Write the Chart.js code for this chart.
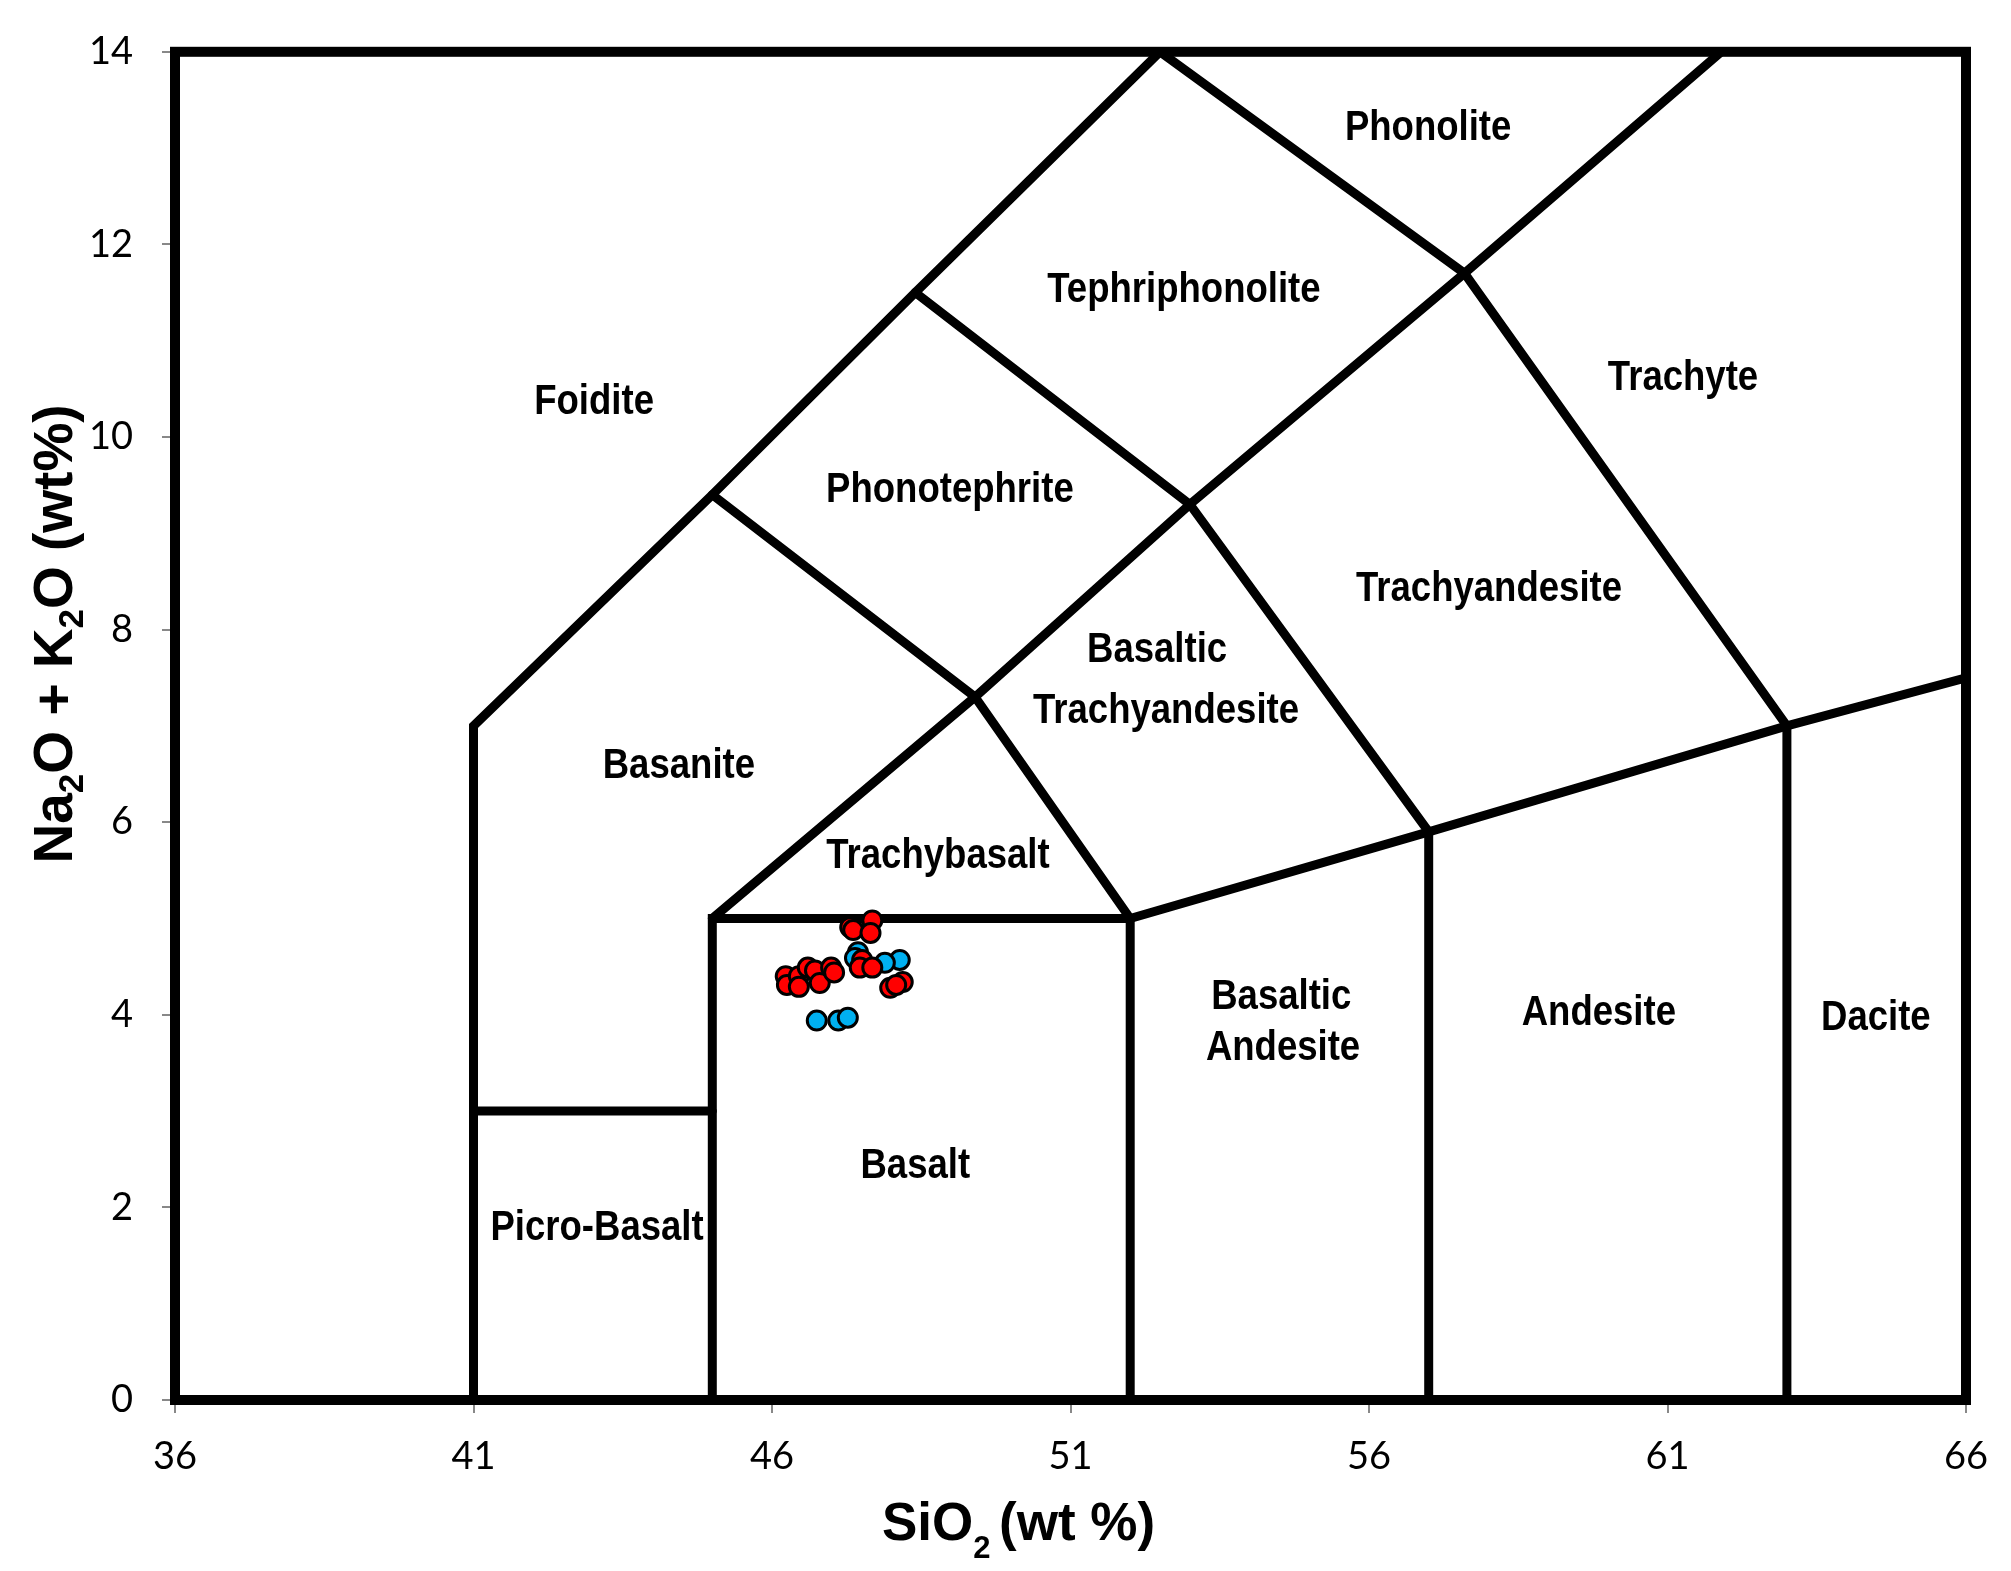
<!DOCTYPE html>
<html>
<head>
<meta charset="utf-8">
<title>TAS diagram</title>
<script src="https://cdn.jsdelivr.net/npm/chart.js@4.4.1/dist/chart.umd.min.js"></script>
<style>
  html, body { margin: 0; padding: 0; background: #fff; }
  canvas { display: block; }
</style>
</head>
<body>
<canvas id="tas" width="2011" height="1571"></canvas>
<script>
// tick labels
const siTicks = [36, 41, 46, 51, 56, 61, 66];
const alkTicks = [0, 2, 4, 6, 8, 10, 12, 14];

// samples
const redSiO2 = [46.23, 46.25, 46.45, 46.45, 46.60, 46.72, 46.80, 46.99, 47.04, 47.31, 47.36, 47.68, 47.65, 47.51, 47.47, 47.68, 47.98, 48.19, 48.08];
const redAlk  = [4.40, 4.31, 4.40, 4.29, 4.49, 4.46, 4.33, 4.49, 4.44, 4.91, 4.88, 4.98, 4.85, 4.57, 4.49, 4.49, 4.28, 4.34, 4.31];
const blueSiO2 = [46.75, 47.11, 47.27, 47.44, 47.39, 48.14, 47.89];
const blueAlk  = [3.94, 3.94, 3.97, 4.65, 4.59, 4.57, 4.54];

// TAS field boundaries (SiO2, Na2O+K2O)
const foiditeEdge = [[41, 0], [41, 7], [45, 9.4], [48.4, 11.5], [52.5, 14]];
const picroTop = [[41, 3], [45, 3]];
const basaltBox = [[45, 0], [45, 5], [52, 5], [52, 0]];
const trachyEdge = [[45, 5], [49.4, 7.3], [53, 9.3], [57.6, 11.7], [61.9, 14]];
const basaniteEdge = [[45, 9.4], [49.4, 7.3], [52, 5]];
const tephriEdge = [[48.4, 11.5], [53, 9.3], [57, 5.9], [57, 0]];
const phonoEdge = [[52.5, 14], [57.6, 11.7], [63, 7], [63, 0]];
const subalkEdge = [[52, 5], [57, 5.9], [63, 7], [66, 7.5]];
const boundaries = [foiditeEdge, picroTop, basaltBox, trachyEdge, basaniteEdge, tephriEdge, phonoEdge, subalkEdge];

// field names and where they sit
const regionNames = ["Foidite", "Phonolite", "Tephriphonolite", "Trachyte", "Phonotephrite", "Trachyandesite",
  "Basaltic", "Trachyandesite", "Basanite", "Trachybasalt", "Basaltic", "Andesite", "Andesite", "Dacite", "Basalt", "Picro-Basalt"];
const labelSiO2 = [43.02, 56.99, 52.90, 61.26, 48.98, 58.01, 52.45, 52.60, 44.44, 48.78, 54.53, 54.56, 59.85, 64.49, 48.40, 43.07];
const labelAlk  = [10.36, 13.20, 11.52, 10.61, 9.45, 8.42, 7.78, 7.15, 6.58, 5.64, 4.18, 3.65, 4.01, 3.96, 2.43, 1.78];

const toPts = (xs, ys) => xs.map((v, i) => ({x: v, y: ys[i]}));

let datasets = [
  {
    data: toPts(redSiO2, redAlk),
    backgroundColor: "#ff0000",
    borderColor: "#000",
    borderWidth: 3,
    pointRadius: 9.5,
    order: 0
  },
  {
    data: toPts(blueSiO2, blueAlk),
    backgroundColor: "#00b0f0",
    borderColor: "#000",
    borderWidth: 3,
    pointRadius: 9.5,
    order: 1
  }
];
boundaries.forEach(b => {
  datasets.push({
    data: b.map(p => ({x: p[0], y: p[1]})),
    showLine: true,
    pointRadius: 0,
    borderColor: "#000",
    borderWidth: 9,
    borderCapStyle: "round",
    borderJoinStyle: "miter",
    fill: false,
    order: 5
  });
});

const frame = {
  id: "frame",
  afterDatasetsDraw(chart) {
    const a = chart.chartArea;
    const ctx = chart.ctx;
    ctx.save();
    ctx.strokeStyle = "#000";
    ctx.lineWidth = 10;
    ctx.strokeRect(a.left, a.top, a.right - a.left, a.bottom - a.top);
    ctx.restore();
  }
};

const fieldLabels = {
  id: "fieldLabels",
  afterDatasetsDraw(chart) {
    const ctx = chart.ctx;
    const sx = chart.scales.x, sy = chart.scales.y;
    ctx.save();
    ctx.fillStyle = "#000";
    ctx.font = 'bold 42px "Liberation Sans", Arial, sans-serif';
    ctx.textAlign = "center";
    ctx.textBaseline = "middle";
    regionNames.forEach((name, i) => {
      ctx.save();
      ctx.translate(sx.getPixelForValue(labelSiO2[i]), sy.getPixelForValue(labelAlk[i]));
      ctx.scale(0.87, 1);
      ctx.fillText(name, 0, 0);
      ctx.restore();
    });
    ctx.restore();
  }
};

// text with subscripts: parts = [text, size, drop]
function richText(ctx, parts) {
  let w = 0;
  parts.forEach(p => {
    ctx.font = 'bold ' + p[1] + 'px "Liberation Sans", Arial, sans-serif';
    w += ctx.measureText(p[0]).width;
  });
  let cx = -w / 2;
  parts.forEach(p => {
    ctx.font = 'bold ' + p[1] + 'px "Liberation Sans", Arial, sans-serif';
    ctx.fillText(p[0], cx, p[2]);
    cx += ctx.measureText(p[0]).width;
  });
}

const axisTitles = {
  id: "axisTitles",
  afterDraw(chart) {
    const ctx = chart.ctx;
    const a = chart.chartArea;
    ctx.save();
    ctx.fillStyle = "#000";
    ctx.textAlign = "left";
    ctx.textBaseline = "alphabetic";

    ctx.save();
    ctx.translate((a.left + a.right) / 2 - 52, a.bottom + 140);
    richText(ctx, [["SiO", 53, 0], ["2 ", 31, 18], ["(wt %)", 53, 0]]);
    ctx.restore();

    ctx.save();
    ctx.translate(a.left - 103, (a.top + a.bottom) / 2 - 92);
    ctx.rotate(-Math.PI / 2);
    richText(ctx, [["Na", 55, 0], ["2", 35, 11], ["O + K", 55, 0], ["2", 35, 11], ["O (wt%)", 55, 0]]);
    ctx.restore();

    ctx.restore();
  }
};

const tickFont = {family: "Lato, 'Open Sans', sans-serif", size: 38};

new Chart(document.getElementById("tas"), {
  type: "scatter",
  data: { datasets: datasets },
  options: {
    responsive: false,
    animation: false,
    devicePixelRatio: 1,
    layout: { padding: { top: 51, right: 45, left: 0, bottom: 0 } },
    plugins: { legend: { display: false }, tooltip: { enabled: false } },
    scales: {
      x: {
        type: "linear",
        min: 36,
        max: 66,
        afterBuildTicks: s => { s.ticks = siTicks.map(v => ({value: v})); },
        afterFit: s => { s.height = 171; },
        grid: { drawOnChartArea: false, drawTicks: true, tickLength: 13, color: "#888", lineWidth: 2 },
        border: { display: false },
        ticks: { color: "#000", font: tickFont, padding: 21, maxRotation: 0 }
      },
      y: {
        type: "linear",
        min: 0,
        max: 14,
        afterBuildTicks: s => { s.ticks = alkTicks.map(v => ({value: v})); },
        afterFit: s => { s.width = 175; },
        grid: { drawOnChartArea: false, drawTicks: true, tickLength: 13, color: "#888", lineWidth: 2 },
        border: { display: false },
        ticks: { color: "#000", font: tickFont, padding: 29 }
      }
    }
  },
  plugins: [frame, fieldLabels, axisTitles]
});
</script>
</body>
</html>
